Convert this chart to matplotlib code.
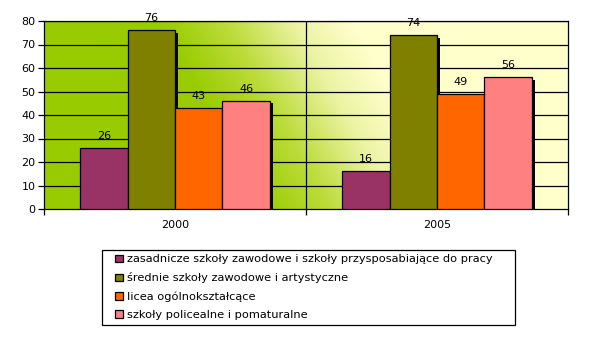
import numpy as np
import matplotlib
matplotlib.use("Agg")
import matplotlib.pyplot as plt
from matplotlib.colors import LinearSegmentedColormap
from matplotlib.transforms import ScaledTranslation
from matplotlib.patches import Rectangle

years = ["2000", "2005"]
series_names = [
    "zasadnicze szkoły zawodowe i szkoły przysposabiające do pracy",
    "średnie szkoły zawodowe i artystyczne",
    "licea ogólnokształcące",
    "szkoły policealne i pomaturalne",
]
zasadnicze = [26, 16]
srednie = [76, 74]
licea = [43, 49]
policealne = [46, 56]
series_values = [zasadnicze, srednie, licea, policealne]
colors = ["#993366", "#808000", "#FF6600", "#FF8080"]
y_ticks = [0, 10, 20, 30, 40, 50, 60, 70, 80]

plt.rcParams["font.family"] = ["DejaVu Sans"]
FS = 8

W, H = 592, 337
fig = plt.figure(figsize=(W / 100, H / 100), dpi=100)
ax = fig.add_axes([44 / W, 1 - 209 / H, (568 - 44) / W, (209 - 21) / H])

# green-to-cream gradient fill of the plot area
nx, ny = 500, 200
xx, yy = np.meshgrid(np.linspace(0, 1, nx), np.linspace(1, 0, ny))
s = xx + 0.2 * yy
t = np.clip((s - 0.42) / 0.37, 0, 1)
cmap = LinearSegmentedColormap.from_list(
    "bg", [(0, "#99CC00"), (0.35, "#BEDC3C"), (0.7, "#ECF4A4"), (1, "#FFFFCC")])
ax.imshow(t, cmap=cmap, extent=[0, 1, 0, 1], transform=ax.transAxes,
          aspect="auto", zorder=0, interpolation="bilinear", vmin=0, vmax=1)

x = np.arange(len(years))
n = len(series_values)
width = 0.181
offsets = (np.arange(n) - (n - 1) / 2) * width

shadow = ax.transData + ScaledTranslation(3 / 100, -2.5 / 100, fig.dpi_scale_trans)
for i, vals in enumerate(series_values):
    ax.bar(x + offsets[i], vals, width, color="black", zorder=2,
           transform=shadow)
for i, (vals, col, name) in enumerate(zip(series_values, colors, series_names)):
    bars = ax.bar(x + offsets[i], vals, width, color=col, edgecolor="black",
                  linewidth=0.9, zorder=3, label=name)
    for b, v in zip(bars, vals):
        ax.annotate(str(v), (b.get_x() + b.get_width() / 2, v),
                    xytext=(0, 5), textcoords="offset points",
                    ha="center", va="bottom", fontsize=FS, zorder=4,
                    annotation_clip=False)

ax.set_xlim(-0.5, 1.5)
ax.set_ylim(0, 80)
ax.set_yticks(y_ticks)
ax.set_yticklabels([str(v) for v in y_ticks], fontsize=FS)
for v in y_ticks[1:]:
    ax.axhline(v, color="black", linewidth=0.9, zorder=1)
ax.axvline(0.5, color="black", linewidth=0.9, zorder=1)

ax.set_xticks([-0.5, 0.5, 1.5])
ax.set_xticklabels([])
ax.set_xticks(x, minor=True)
ax.set_xticklabels(years, minor=True, fontsize=FS)
ax.tick_params(axis="x", which="minor", length=0, pad=8)
ax.tick_params(axis="x", which="major", length=4, width=0.9, direction="out")
ax.tick_params(axis="y", length=4, width=0.9, direction="out", pad=2)
for sp in ax.spines.values():
    sp.set_linewidth(0.9)
    sp.set_color("black")

# legend frame drawn separately so the entries can sit inset from its left edge
fig.patches.append(Rectangle((102 / W, 1 - 325 / H), (515 - 102) / W, 75 / H,
                             transform=fig.transFigure, facecolor="white",
                             edgecolor="black", linewidth=0.9, zorder=5))
leg = fig.legend(
    loc="upper left", bbox_to_anchor=(112 / W, 1 - 251 / H),
    fontsize=8.2, frameon=False, handlelength=0.65, handleheight=0.65,
    handletextpad=0.4, labelspacing=0.7, borderpad=0.3, borderaxespad=0,
)
leg.set_zorder(6)

fig.savefig("out.png", dpi=100)
